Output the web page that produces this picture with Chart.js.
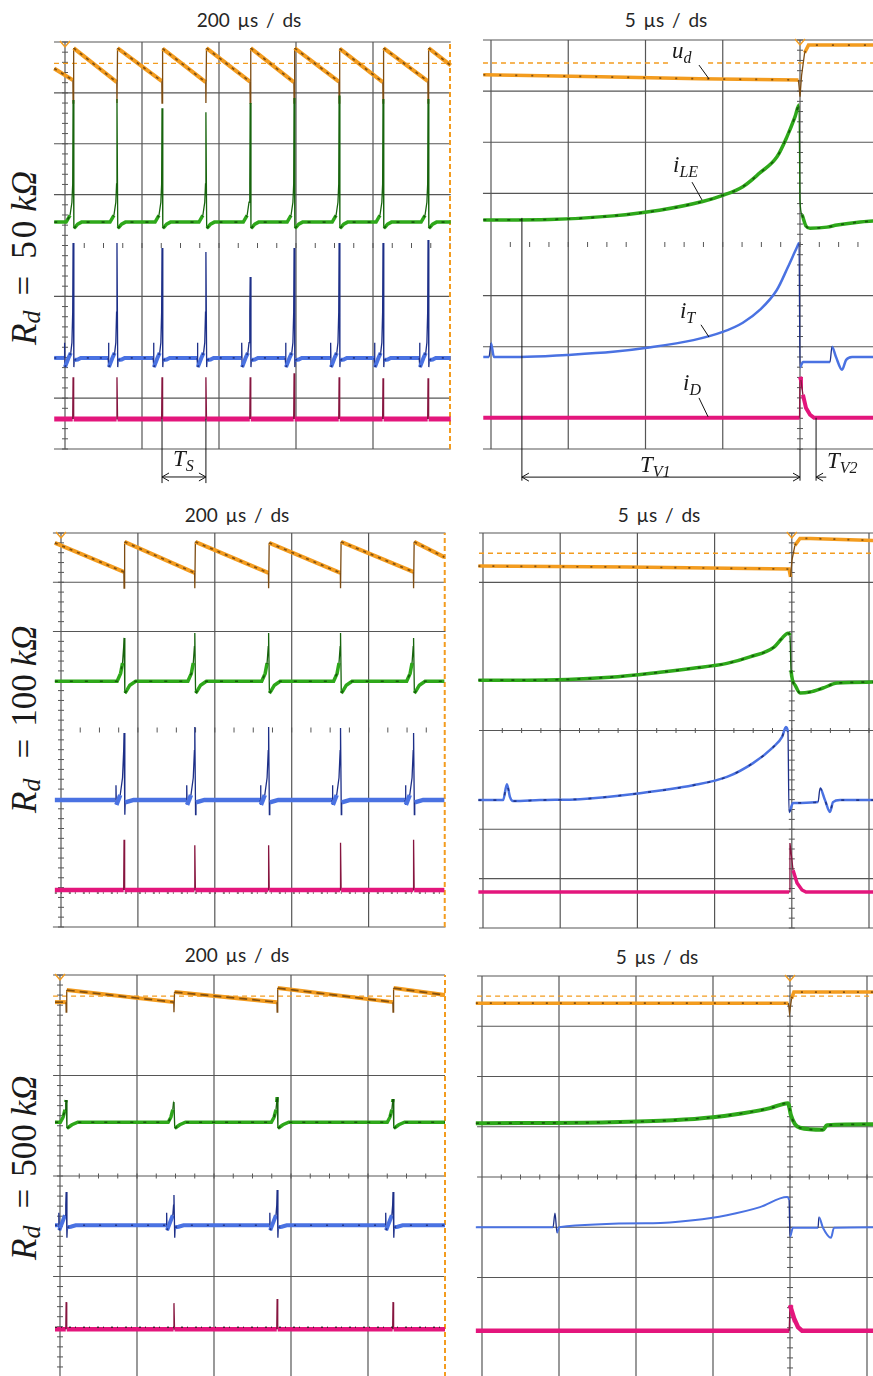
<!DOCTYPE html>
<html>
<head>
<meta charset="utf-8">
<script src="https://cdn.jsdelivr.net/npm/chart.js@4.4.1/dist/chart.umd.min.js"></script>
<style>
  html, body { margin: 0; padding: 0; background: #fff; }
  body { position: relative; width: 873px; height: 1376px; overflow: hidden; }
  canvas { position: absolute; }
  .title { position: absolute; width: 200px; margin-left: -100px; text-align: center;
           font: 19px/24px Lato, "Open Sans", sans-serif; color: #262626; word-spacing: 3px; }
  .rd { position: absolute; transform: rotate(-90deg); transform-origin: 0 0; white-space: nowrap;
        font: 35px/34px "Liberation Serif", "DejaVu Serif", serif; color: #1a1a1a; }
  .rd span { display: inline-block; }
  .rd .it { font-style: italic; }
  .rd .sub { font-size: 26px; font-style: italic; position: relative; top: 4px; }
</style>
</head>
<body>
<div class="title" style="left:249px;top:8px">200 µs / ds</div>
<div class="title" style="left:666px;top:8px">5 µs / ds</div>
<div class="title" style="left:237px;top:503px">200 µs / ds</div>
<div class="title" style="left:659px;top:503px">5 µs / ds</div>
<div class="title" style="left:237px;top:943px">200 µs / ds</div>
<div class="title" style="left:657px;top:945px">5 µs / ds</div>

<div class="rd" style="left:8px;top:345px"><span class="it">R</span><span class="sub">d</span><span style="margin-left:15px">=</span><span style="margin-left:17px;letter-spacing:3px">50</span><span class="it" style="margin-left:6px">kΩ</span></div>
<div class="rd" style="left:8px;top:813px"><span class="it">R</span><span class="sub">d</span><span style="margin-left:20px">=</span><span style="margin-left:12px">100</span><span class="it" style="margin-left:8px">kΩ</span></div>
<div class="rd" style="left:8px;top:1260px"><span class="it">R</span><span class="sub">d</span><span style="margin-left:17px">=</span><span style="margin-left:12px">500</span><span class="it" style="margin-left:8px">kΩ</span></div>

<canvas id="p1"></canvas>
<canvas id="p2"></canvas>
<canvas id="p3"></canvas>
<canvas id="p4"></canvas>
<canvas id="p5"></canvas>
<canvas id="p6"></canvas>

<script>
// Time in µs, amplitude in screen divisions (0 = bottom graticule line, 8 = top)

// ---- Rd = 50 kOhm, 200 µs/div ----
const p1Pulses = [21, 135, 252, 366, 481, 595, 712, 826, 943];
const p1UdLow = [7.25, 7.21, 7.23, 7.21, 7.22, 7.21, 7.22, 7.21, 7.23];
const p1UdHigh = [7.88, 7.88, 7.87, 7.88, 7.88, 7.88, 7.87, 7.88, 7.88];
const p1UdEdges = [7.48, 7.54];
const p1UdRef = 7.58;
const p1LeBase = 4.46;
const p1LePeaks = [6.86, 6.88, 6.7, 6.62, 6.8, 6.9, 6.95, 6.88, 6.88];
const p1LeDt = [-40, -18, -8, -3, -1, 0, 2, 5, 12, 22];
const p1LeDv = [0, 0, 0.13, 0.39, 0.75, null, -0.12, -0.1, -0.04, 0];
const p1ItBase = 1.79;
const p1ItPeaks = [4.05, 4.05, 3.95, 3.87, 3.38, 3.95, 4.05, 4.05, 4.11];
const p1ItDt = [-30, -23, -22, -21, -12, -6, -3, -1, 0, 2, 3, 12, 20];
const p1ItDv = [0, 0, 0.3, -0.18, 0, 0.1, 0.3, 0.9, null, -0.18, -0.04, -0.03, 0];
const p1IdBase = 0.59;
const p1IdPeaks = [1.41, 1.41, 1.41, 1.41, 1.41, 1.49, 1.41, 1.39, 1.39];

// diode current spike shape (shared by the 200 µs/div screens)
const idDt = [-1, 0, 1.5];
const idDv = [0, null, 0];

// ---- Rd = 50 kOhm, 5 µs/div ----
const p2UdT = [-0.5, 7.1, 13.5, 19.9, 20.0, 20.1, 20.3, 20.55, 24.8];
const p2UdV = [7.32, 7.28, 7.24, 7.22, 6.89, 7.3, 7.75, 7.9, 7.9];
const p2UdRef = 7.55;
const p2LeT = [-0.5, 3.8, 7.9, 10.9, 13.7, 15.0, 16.3, 17.4, 18.5, 19.16, 19.68, 19.94, 20.0, 20.13, 20.39, 20.65, 21.75, 22.4, 23.9, 24.8];
const p2LeV = [4.48, 4.49, 4.56, 4.67, 4.84, 4.96, 5.13, 5.40, 5.71, 6.11, 6.50, 6.73, 4.87, 4.58, 4.36, 4.32, 4.34, 4.38, 4.44, 4.46];
const p2ItT = [-0.5, -0.13, 0.0, 0.19, 1.9, 4.9, 7.9, 10.1, 13.1, 15.0, 16.3, 17.4, 18.5, 19.22, 19.81, 19.94, 20.0, 20.19, 21.94, 22.07, 22.33, 22.72, 22.98, 23.37, 24.8];
const p2ItV = [1.80, 1.80, 2.07, 1.80, 1.80, 1.84, 1.90, 1.98, 2.13, 2.29, 2.47, 2.72, 3.11, 3.56, 3.95, 4.03, 1.60, 1.70, 1.70, 2.00, 1.80, 1.55, 1.74, 1.80, 1.80];
const p2IdT = [-0.5, 19.97, 20.0, 20.06, 20.19, 20.39, 20.65, 20.91, 24.8];
const p2IdV = [0.61, 0.61, 1.41, 1.35, 1.06, 0.80, 0.67, 0.61, 0.61];

// ---- Rd = 100 kOhm, 200 µs/div ----
const p3Pulses = [164, 348, 540, 727, 917];
const p3UdLow = [7.21, 7.19, 7.19, 7.19, 7.21];
const p3UdHigh = [7.82, 7.82, 7.80, 7.82, 7.82];
const p3UdEdges = [7.80, 7.51];
const p3LeBase = 4.99;
const p3LePeaks = [5.87, 5.97, 5.97, 5.97, 5.87];
const p3LeDt = [-40, -18, -9, -4, -1, 0, 2, 6, 15, 30];
const p3LeDv = [0, 0, 0.16, 0.37, 0.7, null, -0.24, -0.2, -0.08, 0];
const p3ItBase = 2.58;
const p3ItPeaks = [3.94, 4.06, 4.06, 4.04, 3.94];
const p3ItDt = [-30, -22, -21, -20, -10, -4, -1, 0, 2, 3, 12, 25];
const p3ItDv = [0, 0, 0.3, -0.1, 0.1, 0.45, 1.0, null, -0.3, -0.05, -0.03, 0];
const p3IdBase = 0.75;
const p3IdPeaks = [1.77, 1.66, 1.66, 1.71, 1.77];
const p3NoiseV = [0.69, 0.69];

// ---- Rd = 100 kOhm, 5 µs/div ----
const p4UdT = [-0.3, 9.3, 19.82, 19.92, 20.01, 20.2, 20.53, 21.2, 25.3];
const p4UdV = [7.33, 7.31, 7.27, 7.11, 7.45, 7.75, 7.89, 7.89, 7.85];
const p4UdRef = 7.59;
const p4LeT = [-0.3, 2.85, 8.23, 11.46, 13.6, 15.8, 17.29, 18.85, 19.37, 19.75, 19.88, 19.95, 20.21, 20.53, 21.18, 22.02, 22.93, 25.3];
const p4LeV = [5.02, 5.02, 5.08, 5.18, 5.26, 5.36, 5.49, 5.69, 5.87, 5.97, 5.93, 5.22, 4.92, 4.76, 4.78, 4.86, 4.96, 4.98];
const p4ItT = [-0.3, 1.3, 1.55, 1.75, 1.94, 3.69, 6.28, 10.17, 13.6, 15.8, 17.49, 18.78, 19.37, 19.62, 19.75, 19.82, 20.08, 21.7, 21.83, 22.15, 22.47, 22.67, 23.12, 25.3];
const p4ItV = [2.59, 2.59, 2.91, 2.65, 2.57, 2.59, 2.61, 2.73, 2.89, 3.06, 3.34, 3.66, 3.87, 4.07, 3.97, 2.35, 2.53, 2.55, 2.83, 2.59, 2.35, 2.55, 2.59, 2.59];
const p4IdT = [-0.3, 19.82, 19.88, 19.95, 20.08, 20.34, 20.66, 20.92, 25.3];
const p4IdV = [0.73, 0.73, 1.72, 1.55, 1.17, 0.91, 0.77, 0.73, 0.73];

// ---- Rd = 500 kOhm, 200 µs/div ----
const p5Pulses = [16, 296, 564, 865];
const p5UdLow = [7.46, 7.46, 7.46, 7.46];
const p5UdHigh = [7.70, 7.66, 7.74, 7.74];
const p5UdEdges = [7.46, 7.60];
const p5UdRef = 7.58;
const p5LeBase = 5.07;
const p5LePeaks = [5.51, 5.47, 5.57, 5.53];
const p5LeDt = [-25, -15, -8, -3, -1, 0, 2, 6, 15, 30];
const p5LeDv = [0, 0, 0.1, 0.25, 0.4, null, -0.12, -0.1, -0.05, 0];
const p5ItBase = 3.02;
const p5ItPeaks = [3.68, 3.62, 3.72, 3.68];
const p5ItDt = [-25, -20, -19, -18, -8, -3, -1, 0, 2, 3, 12, 25];
const p5ItDv = [0, 0, 0.25, -0.1, 0.1, 0.2, 0.4, null, -0.25, -0.04, -0.03, 0];
const p5IdBase = 0.95;
const p5IdPeaks = [1.49, 1.47, 1.55, 1.49];
const p5NoiseV = [0.99, 0.99];

// ---- Rd = 500 kOhm, 5 µs/div ----
const p6UdT = [-0.4, 19.9, 19.97, 20.1, 20.25, 25.4];
const p6UdV = [7.46, 7.46, 7.26, 7.55, 7.68, 7.68];
const p6UdRef = 7.60;
const p6LeT = [-0.4, 8.31, 12.4, 15.0, 16.95, 18.7, 19.87, 20.06, 20.32, 20.65, 22.14, 22.4, 25.4];
const p6LeV = [5.07, 5.09, 5.13, 5.19, 5.27, 5.37, 5.47, 5.23, 5.05, 4.98, 4.94, 5.03, 5.05];
const p6ItT = [-0.4, 4.61, 4.74, 4.87, 5.0, 11.1, 13.7, 15.9, 18.05, 19.81, 19.94, 20.0, 20.19, 21.82, 21.88, 22.14, 22.66, 22.86, 25.4];
const p6ItV = [3.0, 3.0, 3.28, 2.89, 3.0, 3.08, 3.14, 3.24, 3.40, 3.60, 3.54, 2.81, 2.99, 2.99, 3.20, 2.99, 2.79, 2.99, 3.0];
const p6IdT = [-0.4, 19.95, 20.0, 20.06, 20.26, 20.52, 20.78, 25.4];
const p6IdV = [0.94, 0.94, 1.45, 1.39, 1.19, 1.01, 0.94, 0.94];

// ---------------------------------------------------------------------------
const GRID = '#565656';
const C = {
  ud: ['#f39c1f', '#7d4c12'],
  le: ['#2ea81a', '#17640d'],
  it: ['#4a72e2', '#1d2f88'],
  id: ['#e3167c', '#86153f']
};

// one pulse template placed at every switching instant
function pulseTrain(pulses, peaks, base, dt, dv, tStart, tEnd) {
  const xs = [tStart], ys = [base];
  pulses.forEach((t0, i) => {
    dt.forEach((d, k) => { xs.push(t0 + d); ys.push(dv[k] === null ? peaks[i] : base + dv[k]); });
  });
  xs.push(tEnd); ys.push(base);
  return [xs, ys];
}

// capacitor voltage: discharge ramp, recharged at each pulse
function sawtooth(pulses, lows, highs, dip, edges, tStart, tEnd) {
  const xs = [tStart], ys = [edges[0]];
  pulses.forEach((t0, i) => {
    xs.push(t0 - 0.5, t0, t0 + 1.5);
    ys.push(lows[i], dip, highs[i]);
  });
  xs.push(tEnd); ys.push(edges[1]);
  return [xs, ys];
}

function steep(c) {
  return Math.abs(c.p1.y - c.p0.y) > 3 * Math.abs(c.p1.x - c.p0.x) + 5;
}

function trace(xs, ys, key, width, smooth) {
  const [col, dark] = C[key];
  return {
    data: xs.map((x, i) => ({ x, y: ys[i] })),
    borderColor: col,
    borderWidth: width,
    pointRadius: 0,
    tension: 0,
    cubicInterpolationMode: smooth ? 'monotone' : 'default',
    segment: {
      borderColor: c => steep(c) ? dark : undefined,
      borderWidth: c => steep(c) ? 1.3 : undefined
    }
  };
}

// dark acquisition speckle riding on the flat and slow parts of a trace
function speckle(xs, ys, color, dash, smooth) {
  return {
    data: xs.map((x, i) => ({ x, y: ys[i] })),
    borderColor: color, borderWidth: 1.7, borderDash: dash,
    pointRadius: 0, tension: 0,
    cubicInterpolationMode: smooth ? 'monotone' : 'default',
    segment: { borderColor: c => steep(c) ? 'rgba(0,0,0,0)' : undefined }
  };
}

function noise(xs, ys) {
  return {
    data: xs.map((x, i) => ({ x, y: ys[i] })),
    borderColor: 'rgba(40,30,30,0.8)', borderWidth: 1.6, borderDash: [2, 4, 1, 7],
    pointRadius: 0, tension: 0
  };
}

function seg(ctx, x1, y1, x2, y2) {
  ctx.beginPath(); ctx.moveTo(x1, y1); ctx.lineTo(x2, y2); ctx.stroke();
}

// graticule, trigger mark, reference level and hand-drawn annotations
const scopePlugin = {
  id: 'scope',
  beforeDatasetsDraw(chart, _args, o) {
    const ctx = chart.ctx;
    const X = v => chart.scales.x.getPixelForValue(v);
    const Y = v => chart.scales.y.getPixelForValue(v);
    ctx.save();
    ctx.strokeStyle = GRID;
    ctx.lineWidth = 1.2;
    o.hLines.forEach(v => seg(ctx, X(o.hFrom), Y(v), X(o.hTo), Y(v)));
    o.vLines.forEach(t => seg(ctx, X(t), Y(0), X(t), Y(8)));
    if (o.rowLine) seg(ctx, X(o.hFrom), Y(4), X(o.hTo), Y(4));
    ctx.lineWidth = 1;
    for (let k = 0; k <= 40; k++) {
      const y = Y(k * 0.2);
      seg(ctx, X(o.axisT) - 3, y, X(o.axisT) + 3, y);
    }
    for (let t = o.tDiv / 4; t < o.hTo; t += o.tDiv / 4) {
      seg(ctx, X(t), Y(4) - 2.5, X(t), Y(4) + 2.5);
    }
    ctx.strokeStyle = C.ud[0];
    ctx.lineWidth = 1.3;
    ctx.setLineDash([5, 4]);
    o.refSpans.forEach(([a, b]) => seg(ctx, X(a), Y(o.ref), X(b), Y(o.ref)));
    if (o.rightEdge != null) {
      ctx.lineWidth = 2;
      ctx.setLineDash([5, 3]);
      seg(ctx, X(o.rightEdge), Y(0), X(o.rightEdge), Y(8));
    }
    ctx.setLineDash([]);
    const tx = X(o.axisT), ty = Y(8);
    ctx.lineWidth = 1.4;
    ctx.beginPath(); ctx.moveTo(tx - 5, ty - 1); ctx.lineTo(tx, ty + 5); ctx.lineTo(tx + 5, ty - 1); ctx.stroke();
    ctx.restore();
  },
  afterDatasetsDraw(chart, _args, o) {
    const n = o.notes;
    if (!n) return;
    const ctx = chart.ctx;
    const X = v => chart.scales.x.getPixelForValue(v);
    const Y = v => chart.scales.y.getPixelForValue(v);
    ctx.save();
    ctx.strokeStyle = '#111';
    ctx.fillStyle = '#1a1a1a';
    ctx.lineWidth = 1;
    n.lines.forEach(([t1, v1, t2, v2]) => seg(ctx, X(t1), Y(v1), X(t2), Y(v2)));
    n.heads.forEach(([t, v, dir]) => {
      const x = X(t), y = Y(v);
      seg(ctx, x, y, x - dir * 7, y - 4);
      seg(ctx, x, y, x - dir * 7, y + 4);
    });
    n.labels.forEach(([t, v, main, sub]) => {
      const x = X(t), y = Y(v);
      ctx.font = 'italic 23px "Liberation Serif", serif';
      ctx.fillText(main, x, y);
      const w = ctx.measureText(main).width;
      ctx.font = 'italic 16px "Liberation Serif", serif';
      ctx.fillText(sub, x + w, y + 5);
    });
    ctx.restore();
  }
};

function makePanel(id, box, cal, datasets, scope) {
  const cv = document.getElementById(id);
  cv.width = box.w; cv.height = box.h;
  cv.style.left = box.left + 'px'; cv.style.top = box.top + 'px';
  cv.style.width = box.w + 'px'; cv.style.height = box.h + 'px';
  const tOf = px => (px - cal.x0) / cal.dx * cal.tDiv;
  const vOf = py => (cal.y0 - py) / cal.dy;
  scope.tDiv = cal.tDiv;
  new Chart(cv, {
    type: 'line',
    data: { datasets },
    options: {
      responsive: false,
      animation: false,
      events: [],
      layout: { padding: 0 },
      plugins: { legend: { display: false }, tooltip: { enabled: false }, scope },
      scales: {
        x: { type: 'linear', display: false, min: tOf(box.left), max: tOf(box.left + box.w) },
        y: { type: 'linear', display: false, min: vOf(box.top + box.h), max: vOf(box.top) }
      }
    },
    plugins: [scopePlugin]
  });
}

const ORANGE_SPK = 'rgba(95,55,10,0.75)';
const GREEN_SPK = 'rgba(15,70,8,0.8)';
const BLUE_SPK = 'rgba(20,35,110,0.75)';

// ---- panel 1 ----
{
  const ud = sawtooth(p1Pulses, p1UdLow, p1UdHigh, 6.8, p1UdEdges, -28, 1002);
  const le = pulseTrain(p1Pulses, p1LePeaks, p1LeBase, p1LeDt, p1LeDv, -28, 1002);
  const it = pulseTrain(p1Pulses, p1ItPeaks, p1ItBase, p1ItDt, p1ItDv, -28, 1002);
  const id = pulseTrain(p1Pulses, p1IdPeaks, p1IdBase, idDt, idDv, -28, 1002);
  makePanel('p1', { left: 48, top: 32, w: 408, h: 462 }, { x0: 65, dx: 77, tDiv: 200, y0: 449, dy: 50.875 }, [
    trace(id[0], id[1], 'id', 5),
    speckle(it[0], it[1], BLUE_SPK, [2, 11]),
    trace(it[0], it[1], 'it', 4),
    speckle(le[0], le[1], GREEN_SPK, [3, 12]),
    trace(le[0], le[1], 'le', 3.5),
    speckle(ud[0], ud[1], ORANGE_SPK, [3, 5]),
    trace(ud[0], ud[1], 'ud', 4)
  ], {
    hLines: [0, 1, 3, 5, 6, 7, 8], vLines: [0, 200, 400, 600, 800], rowLine: false,
    hFrom: -28.6, hTo: 1002, axisT: 0, ref: p1UdRef, refSpans: [[-28.6, 1000]], rightEdge: 1000,
    notes: {
      lines: [[252, 0.59, 252, -0.67], [366, 0.59, 366, -0.67], [252, -0.55, 366, -0.55]],
      heads: [[252, -0.55, -1], [366, -0.55, 1]],
      labels: [[280.5, -0.33, 'T', 'S']]
    }
  });
}

// ---- panel 2 ----
makePanel('p2', { left: 476, top: 32, w: 397, h: 462 }, { x0: 491, dx: 77.25, tDiv: 5, y0: 449, dy: 51.125 }, [
  trace(p2IdT, p2IdV, 'id', 4),
  trace(p2ItT, p2ItV, 'it', 2.5, true),
  speckle(p2LeT, p2LeV, GREEN_SPK, [3, 9], true),
  trace(p2LeT, p2LeV, 'le', 3.5, true),
  speckle(p2UdT, p2UdV, ORANGE_SPK, [2, 14]),
  trace(p2UdT, p2UdV, 'ud', 3.5)
], {
  hLines: [0, 2, 3, 5, 6, 7, 8], vLines: [0, 5, 10, 15, 20, 25], rowLine: false,
  hFrom: -0.52, hTo: 25.6, axisT: 20, ref: p2UdRef, refSpans: [[-0.52, 11.65], [14.05, 25.6]], rightEdge: null,
  notes: {
    lines: [
      [13.46, 7.51, 14.11, 7.24], [13.01, 5.22, 13.66, 4.87], [13.59, 2.43, 14.11, 2.19], [13.46, 1.0, 14.05, 0.63],
      [2.0, 4.52, 2.0, -0.62], [20, 0, 20, -0.62], [21.04, 0.61, 21.04, -0.62],
      [2.0, -0.55, 20, -0.55], [21.04, -0.55, 21.7, -0.55]
    ],
    heads: [[2.0, -0.55, -1], [20, -0.55, 1], [21.04, -0.55, -1]],
    labels: [
      [11.72, 7.65, 'u', 'd'], [11.78, 5.42, 'i', 'LE'], [12.23, 2.56, 'i', 'T'], [12.43, 1.15, 'i', 'D'],
      [9.64, -0.45, 'T', 'V1'], [21.75, -0.37, 'T', 'V2']
    ]
  }
});

// ---- panel 3 ----
{
  const ud = sawtooth(p3Pulses, p3UdLow, p3UdHigh, 6.88, p3UdEdges, -16, 997);
  const le = pulseTrain(p3Pulses, p3LePeaks, p3LeBase, p3LeDt, p3LeDv, -16, 997);
  const it = pulseTrain(p3Pulses, p3ItPeaks, p3ItBase, p3ItDt, p3ItDv, -16, 997);
  const id = pulseTrain(p3Pulses, p3IdPeaks, p3IdBase, idDt, idDv, -16, 997);
  makePanel('p3', { left: 48, top: 525, w: 408, h: 410 }, { x0: 61, dx: 76.9, tDiv: 200, y0: 927, dy: 49.25 }, [
    trace(id[0], id[1], 'id', 4.5),
    noise([-16, 997], p3NoiseV),
    trace(it[0], it[1], 'it', 4.5),
    speckle(le[0], le[1], GREEN_SPK, [3, 12]),
    trace(le[0], le[1], 'le', 3.5),
    speckle(ud[0], ud[1], ORANGE_SPK, [3, 5]),
    trace(ud[0], ud[1], 'ud', 4)
  ], {
    hLines: [0, 6, 7, 8], vLines: [0, 200, 400, 600, 800], rowLine: false,
    hFrom: -21, hTo: 1000, axisT: 0, ref: 7.6, refSpans: [], rightEdge: 998
  });
}

// ---- panel 4 ----
makePanel('p4', { left: 470, top: 525, w: 403, h: 410 }, { x0: 483, dx: 77.2, tDiv: 5, y0: 928, dy: 49.375 }, [
  trace(p4IdT, p4IdV, 'id', 3.5),
  speckle(p4ItT, p4ItV, BLUE_SPK, [3, 12], true),
  trace(p4ItT, p4ItV, 'it', 2.5, true),
  speckle(p4LeT, p4LeV, GREEN_SPK, [3, 8], true),
  trace(p4LeT, p4LeV, 'le', 3.5, true),
  speckle(p4UdT, p4UdV, ORANGE_SPK, [2, 12]),
  trace(p4UdT, p4UdV, 'ud', 3.5)
], {
  hLines: [0, 1, 2, 5, 7, 8], vLines: [0, 5, 10, 15, 20, 25], rowLine: true,
  hFrom: -0.26, hTo: 25.6, axisT: 20, ref: p4UdRef, refSpans: [[-0.26, 25.6]], rightEdge: null
});

// ---- panel 5 ----
{
  const ud = sawtooth(p5Pulses, p5UdLow, p5UdHigh, 7.26, p5UdEdges, -13, 1000);
  const le = pulseTrain(p5Pulses, p5LePeaks, p5LeBase, p5LeDt, p5LeDv, -13, 1000);
  const it = pulseTrain(p5Pulses, p5ItPeaks, p5ItBase, p5ItDt, p5ItDv, -13, 1000);
  const id = pulseTrain(p5Pulses, p5IdPeaks, p5IdBase, idDt, idDv, -13, 1000);
  makePanel('p5', { left: 48, top: 968, w: 408, h: 408 }, { x0: 60, dx: 77, tDiv: 200, y0: 1377, dy: 50.25 }, [
    noise([-13, 1000], p5NoiseV),
    trace(id[0], id[1], 'id', 4.5),
    speckle(it[0], it[1], BLUE_SPK, [2, 14]),
    trace(it[0], it[1], 'it', 4),
    speckle(le[0], le[1], GREEN_SPK, [3, 10]),
    trace(le[0], le[1], 'le', 3.5),
    speckle(ud[0], ud[1], ORANGE_SPK, [8, 5]),
    trace(ud[0], ud[1], 'ud', 4)
  ], {
    hLines: [0, 2, 6, 8], vLines: [0, 200, 400, 600, 800], rowLine: true,
    hFrom: -18, hTo: 1000, axisT: 0, ref: p5UdRef, refSpans: [[-18, 1000]], rightEdge: 1000
  });
}

// ---- panel 6 ----
makePanel('p6', { left: 470, top: 968, w: 403, h: 408 }, { x0: 482, dx: 77, tDiv: 5, y0: 1378, dy: 50.25 }, [
  trace(p6IdT, p6IdV, 'id', 4.5),
  trace(p6ItT, p6ItV, 'it', 2, true),
  speckle(p6LeT, p6LeV, GREEN_SPK, [3, 8], true),
  trace(p6LeT, p6LeV, 'le', 4, true),
  speckle(p6UdT, p6UdV, ORANGE_SPK, [2, 12]),
  trace(p6UdT, p6UdV, 'ud', 3.5)
], {
  hLines: [0, 2, 3, 5, 6, 7, 8], vLines: [0, 5, 10, 15, 20, 25], rowLine: true,
  hFrom: -0.32, hTo: 25.6, axisT: 20, ref: p6UdRef, refSpans: [[-0.32, 25.6]], rightEdge: null
});
</script>
</body>
</html>
